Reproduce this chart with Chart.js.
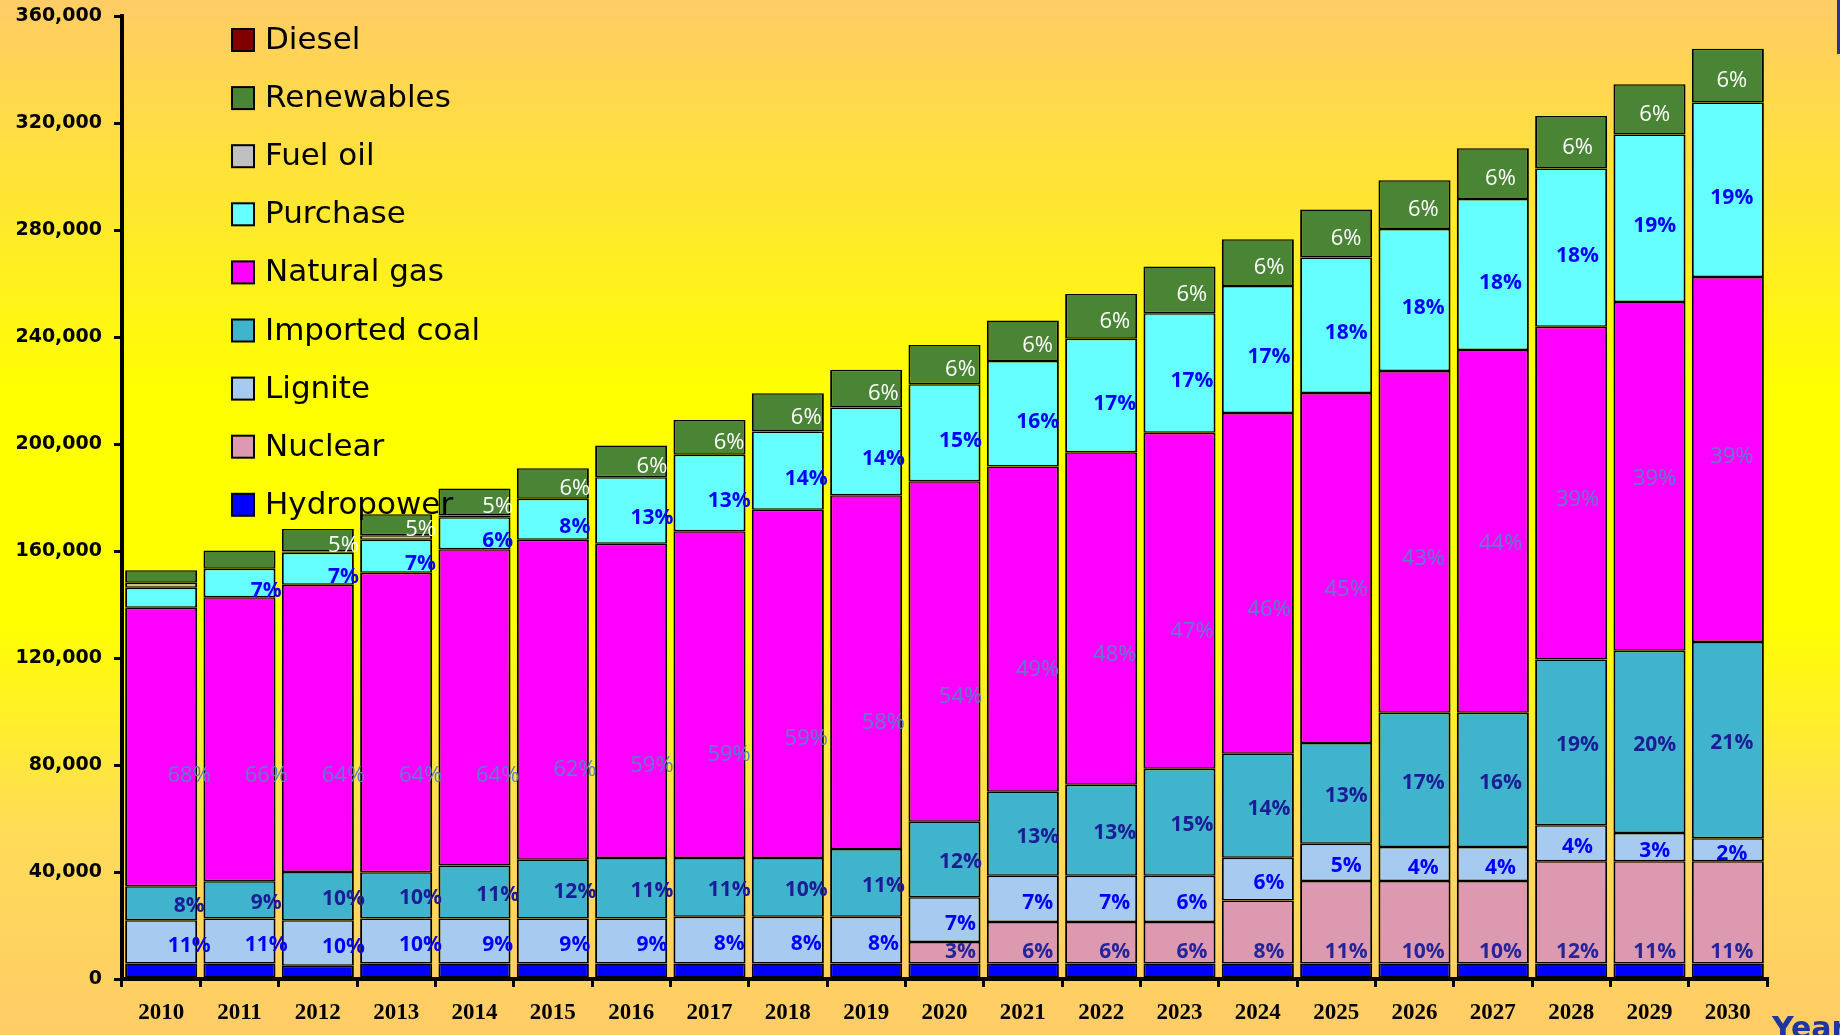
<!DOCTYPE html>
<html>
<head>
<meta charset="utf-8">
<title>Electricity supply by source, 2010-2030</title>
<script src="https://cdn.jsdelivr.net/npm/chart.js@4.4.1/dist/chart.umd.min.js"></script>
<style>
  html, body { margin: 0; padding: 0; overflow: hidden; }
  #wrap { width: 1840px; height: 1035px; }
</style>
</head>
<body>
<div id="wrap"><canvas id="chart"></canvas></div>
<script>
// categories
const years = ['2010','2011','2012','2013','2014','2015','2016','2017','2018','2019','2020',
               '2021','2022','2023','2024','2025','2026','2027','2028','2029','2030'];

// series values, stacked bottom to top
const hydropower  = [5800,5800,5000,5800,5800,5800,5800,5800,5800,5800,5800,5800,5800,5800,5800,5800,5800,5800,5800,5800,5800];
const nuclear     = [null,null,null,null,null,null,null,null,null,null,8000,15500,15500,15500,23500,30800,30800,30800,38200,38200,38200];
const lignite     = [16200,16800,17000,16800,16800,16800,16800,17500,17500,17500,16800,17300,17300,17300,16000,14000,12700,12700,13500,10600,8600];
const importedCoal= [12700,13900,18000,17300,19800,22000,22600,21900,21900,25300,28200,31400,34000,40000,38900,37600,50200,50200,61900,68100,73400];
const naturalGas  = [104100,106200,107400,112000,118300,119600,117500,122200,130200,132200,127300,121600,124300,125600,127400,130900,127800,135600,124400,130400,136400];
const purchase    = [7500,10700,11900,12300,11900,15300,24900,28600,29300,32800,36200,39400,42400,44700,47500,50600,53100,56500,59200,62600,65300];
const fuelOil     = [1800,null,500,1700,700,null,null,null,null,null,null,null,null,null,null,null,null,null,null,null,null];
const renewables  = [4700,6800,8400,7800,10100,11400,11800,13000,14300,14200,14700,15200,16800,17500,17400,18000,18200,19000,19600,18800,20100];
const diesel      = [null,null,null,null,null,null,null,null,null,null,null,null,null,null,null,null,null,null,null,null,null];

// share labels printed on the bars (%)
const nuclearPct   = [null,null,null,null,null,null,null,null,null,null,3,6,6,6,8,11,10,10,12,11,11];
const lignitePct   = [11,11,10,10,9,9,9,8,8,8,7,7,7,6,6,5,4,4,4,3,2];
const coalPct      = [8,9,10,10,11,12,11,11,10,11,12,13,13,15,14,13,17,16,19,20,21];
const gasPct       = [68,66,64,64,64,62,59,59,59,58,54,49,48,47,46,45,43,44,39,39,39];
const purchasePct  = [null,7,7,7,6,8,13,13,14,14,15,16,17,17,17,18,18,18,18,19,19];
const renewablesPct= [null,null,5,5,5,6,6,6,6,6,6,6,6,6,6,6,6,6,6,6,6];

// y axis ticks
const yMax = 360000;
const yStep = 40000;

const bar = (label, data, color) => ({
  label, data, backgroundColor: color,
  borderColor: '#000', borderWidth: { left: 2, right: 2, top: 1.5, bottom: 1.5 }, borderSkipped: false,
  barPercentage: 0.92, categoryPercentage: 1
});

const datasets = [
  bar('Hydropower', hydropower, '#0000ff'),
  bar('Nuclear', nuclear, '#dd99b0'),
  bar('Lignite', lignite, '#a6caf0'),
  bar('Imported coal', importedCoal, '#40b4cc'),
  bar('Natural gas', naturalGas, '#ff00ff'),
  bar('Purchase', purchase, '#66ffff'),
  bar('Fuel oil', fuelOil, '#c0c0c0'),
  bar('Renewables', renewables, '#4a8536'),
  bar('Diesel', diesel, '#800000')
];

const bold = '700 21px "Open Sans"';
const plain = '22px "Open Sans"';
// gas shares sit low in the early bars, then follow the segment upwards
const gasY = (scale, mid, i) =>
  Math.min(scale.getPixelForValue(76000), scale.getPixelForValue(scale.getValueForPixel(mid) - 35000 + 1800 * i));
const labelStyles = {
  'Nuclear':       { values: nuclearPct,    color: '#25259a', font: bold,  y: (s, m, i, p) => p.base - 11 },
  'Lignite':       { values: lignitePct,    color: '#0000ff', font: bold,  y: (s, m) => m + 4 },
  'Imported coal': { values: coalPct,       color: '#1c1c96', font: bold,  y: (s, m) => m + 3 },
  'Natural gas':   { values: gasPct,        color: '#5f7bcc', font: plain, y: gasY },
  'Purchase':      { values: purchasePct,   color: '#0000ff', font: bold,  y: (s, m) => m + 8 },
  'Renewables':    { values: renewablesPct, color: '#ffffff', font: plain, y: (s, m) => m + 5 }
};

const backdrop = {
  id: 'backdrop',
  beforeDraw(chart) {
    const ctx = chart.ctx;
    const g = ctx.createLinearGradient(0, 0, 0, chart.height);
    g.addColorStop(0, '#ffcc66');
    g.addColorStop(0.38, '#ffff00');
    g.addColorStop(0.6, '#ffff00');
    g.addColorStop(0.8, '#ffdc58');
    g.addColorStop(1, '#ffcc66');
    ctx.save();
    ctx.fillStyle = g;
    ctx.fillRect(0, 0, chart.width, chart.height);
    ctx.restore();
  }
};

const segmentLabels = {
  id: 'segmentLabels',
  afterDatasetsDraw(chart) {
    const ctx = chart.ctx, ys = chart.scales.y;
    ctx.save();
    ctx.textAlign = 'center';
    ctx.textBaseline = 'middle';
    chart.data.datasets.forEach((ds, d) => {
      const st = labelStyles[ds.label];
      if (!st) return;
      chart.getDatasetMeta(d).data.forEach((el, i) => {
        const pct = st.values[i];
        if (pct == null) return;
        const p = el.getProps(['x', 'y', 'base'], true);
        const mid = (p.y + p.base) / 2;
        ctx.font = st.font;
        ctx.fillStyle = st.color;
        ctx.fillText(pct + '%', p.x + 28 - 1.2 * i, st.y(ys, mid, i, p));
      });
    });
    ctx.restore();
  }
};

const boxLegend = {
  id: 'boxLegend',
  afterDraw(chart) {
    const ctx = chart.ctx, area = chart.chartArea;
    ctx.save();
    chart.data.datasets.slice().reverse().forEach((ds, k) => {
      const cy = area.top + 24 + k * 58.1;
      const bx = area.left + 110;
      ctx.fillStyle = ds.backgroundColor;
      ctx.fillRect(bx, cy - 11, 22, 22);
      ctx.strokeStyle = '#000';
      ctx.lineWidth = 2;
      ctx.strokeRect(bx, cy - 11, 22, 22);
      ctx.fillStyle = '#000';
      ctx.font = '31px "DejaVu Sans"';
      ctx.textAlign = 'left';
      ctx.textBaseline = 'middle';
      ctx.fillText(ds.label, bx + 33, cy + 1);
    });
    // axis name, cut off at the lower right edge
    ctx.fillStyle = '#1f35a0';
    ctx.font = 'bold 30px "DejaVu Sans"';
    ctx.textBaseline = 'alphabetic';
    ctx.fillText('Year', 1772, 1038);
    ctx.fillRect(1837, 0, 3, 54);
    ctx.restore();
  }
};

new Chart(document.getElementById('chart'), {
  type: 'bar',
  data: { labels: years, datasets },
  plugins: [backdrop, segmentLabels, boxLegend],
  options: {
    responsive: true,
    maintainAspectRatio: false,
    animation: false,
    devicePixelRatio: 1,
    layout: { padding: { left: 0, right: 73, top: 16, bottom: 0 } },
    plugins: { legend: { display: false }, tooltip: { enabled: false } },
    scales: {
      x: {
        stacked: true,
        afterFit: s => { s.height = 56; },
        border: { color: '#000', width: 4 },
        grid: { drawOnChartArea: false, color: '#000', lineWidth: 3, tickLength: 8, offset: true },
        ticks: {
          color: '#000', autoSkip: false, maxRotation: 0, padding: 12,
          font: { family: '"Liberation Serif"', weight: 'bold', size: 23 }
        }
      },
      y: {
        stacked: true,
        min: 0, max: yMax,
        afterFit: s => { s.width = 122; s.paddingTop = 0; s.paddingBottom = 0; },
        border: { color: '#000', width: 4 },
        grid: { drawOnChartArea: false, color: '#000', lineWidth: 3, tickLength: 8 },
        ticks: {
          stepSize: yStep, color: '#000', padding: 12,
          font: { family: '"DejaVu Sans"', weight: 'bold', size: 19 },
          callback: v => v.toLocaleString('en-US')
        }
      }
    }
  }
});
</script>
</body>
</html>
